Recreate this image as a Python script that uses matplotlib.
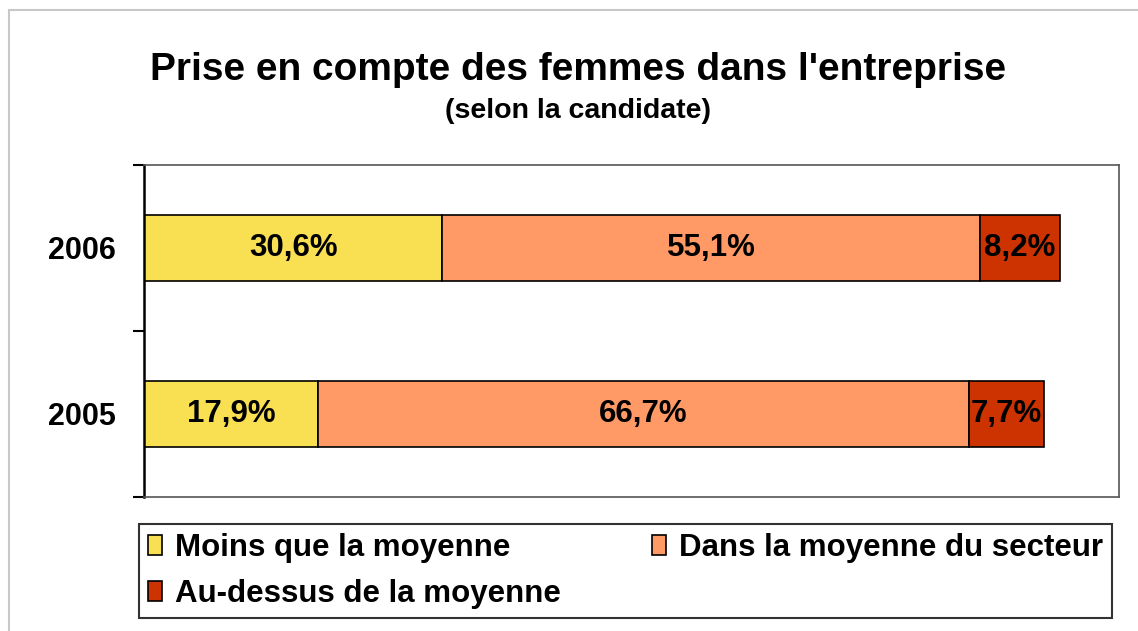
import matplotlib.pyplot as plt
from matplotlib.patches import Rectangle

plt.rcParams['font.family'] = ['Liberation Sans', 'DejaVu Sans']

years = ['2005', '2006']
moins = [17.9, 30.6]
dans = [66.7, 55.1]
dessus = [7.7, 8.2]
series_names = ['Moins que la moyenne', 'Dans la moyenne du secteur',
                'Au-dessus de la moyenne']
colors = ['#F9DF52', '#FF9966', '#CC3300']

fig = plt.figure(figsize=(11.38, 6.31), dpi=100)
ax = fig.add_axes([0.1265, 0.2124, 0.8568, 0.5261])

# outer light grey frame (chart area border)
fig.patches.append(Rectangle((9 / 1138, -0.2), 1.2, 1.2 - 10 / 631,
                             transform=fig.transFigure, fill=False,
                             edgecolor='#c8c8c8', linewidth=1.5))

ypos = list(range(len(years)))
left = [0.0] * len(years)
bars = []
for vals, col, name in zip([moins, dans, dessus], colors, series_names):
    b = ax.barh(ypos, vals, left=left, height=0.4, color=col,
                edgecolor='black', linewidth=1.2, label=name)
    for y, l, v in zip(ypos, left, vals):
        ax.text(l + v / 2, y, ('%.1f%%' % v).replace('.', ','),
                ha='center', va='center', fontsize=22.5, fontweight='bold')
    bars.append(b)
    left = [l + v for l, v in zip(left, vals)]

ax.set_xlim(0, 100)
ax.set_ylim(-0.5, 1.5)
ax.set_xticks([])
ax.set_yticks(ypos)
ax.set_yticklabels(years, fontsize=22, fontweight='bold')
ax.set_yticks([-0.5, 0.5, 1.5], minor=True)
ax.tick_params(axis='y', which='major', length=0, pad=20)
ax.tick_params(axis='y', which='minor', length=8, width=1.5, direction='out')

ax.spines['left'].set_linewidth(1.8)
ax.spines['left'].set_color('black')
for s in ['top', 'right', 'bottom']:
    ax.spines[s].set_color('#555555')
    ax.spines[s].set_linewidth(1.2)

fig.text(0.508, 1 - 80 / 631, "Prise en compte des femmes dans l'entreprise",
         ha='center', va='baseline', fontsize=28, fontweight='bold')
fig.text(0.508, 1 - 118 / 631, '(selon la candidate)', ha='center',
         va='baseline', fontsize=20.5, fontweight='bold')

# row-wise order as in the reference legend
order = [0, 2, 1]
leg = fig.legend(handles=[bars[i] for i in order],
                 labels=[series_names[i] for i in order], ncol=2,
                 loc='lower left', mode='expand',
                 bbox_to_anchor=(139 / 1138, 13 / 631, 973 / 1138, 98 / 631),
                 prop={'weight': 'bold', 'size': 22.5},
                 handlelength=0.45, handleheight=0.6, handletextpad=0.4,
                 columnspacing=1.0, labelspacing=0.5, borderpad=0.3,
                 borderaxespad=0, fancybox=False, frameon=True,
                 edgecolor='black')
leg.get_frame().set_linewidth(1.5)

fig.savefig('out.png', dpi=100)
